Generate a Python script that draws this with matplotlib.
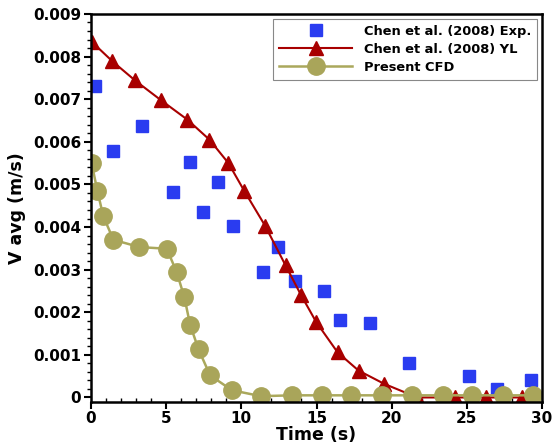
import numpy as np
import matplotlib
matplotlib.use('Agg')
import matplotlib.pyplot as plt
from matplotlib.ticker import MultipleLocator, FuncFormatter

plt.rcParams['font.family'] = ['DejaVu Sans']
plt.rcParams['font.weight'] = 'bold'

# Chen et al. (2008) experiment
exp_t = [0.27, 1.49, 3.37, 5.44, 6.59, 7.48, 8.48, 9.43, 11.43, 12.45, 13.58,
         15.53, 16.53, 18.53, 21.15, 25.14, 27.0, 29.27]
exp_v = [0.00730, 0.00578, 0.00638, 0.00483, 0.00552, 0.00436, 0.00505, 0.00403,
         0.00294, 0.00352, 0.00273, 0.00250, 0.00181, 0.00174, 0.00080, 0.00050,
         0.00020, 0.00041]

# Chen et al. (2008) YL model
yl_t = [0.04, 1.42, 2.93, 4.64, 6.41, 7.88, 9.14, 10.19, 11.58, 12.94, 13.96,
        14.98, 16.40, 17.80, 19.50, 21.70, 24.20, 26.30, 28.70]
yl_v = [0.00835, 0.00789, 0.00744, 0.00698, 0.00652, 0.00605, 0.00550, 0.00485,
        0.00403, 0.00310, 0.00241, 0.00177, 0.00106, 0.00063, 0.00032, 0.0,
        0.0, 0.0, 0.0]

# Present CFD
cfd_t = [0.04, 0.42, 0.82, 1.49, 3.22, 5.04, 5.70, 6.21, 6.59, 7.15, 7.92, 9.37,
         11.30, 13.36, 15.36, 17.31, 19.35, 21.35, 23.40, 25.35, 27.40, 29.40]
cfd_v = [0.00550, 0.00485, 0.00425, 0.00370, 0.00353, 0.00349, 0.00294, 0.00235,
         0.00171, 0.00113, 0.00052, 0.00017, 0.00003, 0.00005, 0.00005, 0.00005,
         0.00005, 0.00005, 0.00005, 0.00005, 0.00005, 0.00005]

fig = plt.figure(figsize=(5.53, 4.48), dpi=100)
ax = fig.add_axes([0.1646, 0.1033, 0.8155, 0.8655])

ax.plot(exp_t, exp_v, linestyle='none', marker='s', ms=8.5, color='#2a3cf0',
        mec='#2a3cf0', label='Chen et al. (2008) Exp.')
ax.plot(yl_t, yl_v, '-', color='#a80000', lw=1.5, marker='^', ms=9.5,
        label='Chen et al. (2008) YL')
ax.plot(cfd_t, cfd_v, '-', color='#aaa85c', lw=1.8, marker='o', ms=12.5,
        mfc='#a9a55a', mec='#a9a55a', label='Present CFD')

ax.set_xlim(0, 30)
ax.set_ylim(-0.0001, 0.009)
ax.xaxis.set_major_locator(MultipleLocator(5))
ax.xaxis.set_minor_locator(MultipleLocator(1))
ax.yaxis.set_major_locator(MultipleLocator(0.001))
ax.yaxis.set_minor_locator(MultipleLocator(0.0002))
ax.yaxis.set_major_formatter(FuncFormatter(lambda v, p: '0' if abs(v) < 1e-9 else '%.3f' % v))

ax.tick_params(axis='both', which='major', direction='out', length=5, width=1.5,
               labelsize=11, top=False, right=False, pad=2)
ax.tick_params(axis='y', which='minor', direction='out', length=3, width=1)
ax.tick_params(axis='x', which='minor', direction='in', length=3, width=1)
for s in ax.spines.values():
    s.set_linewidth(1.8)

ax.set_xlabel('Time (s)', fontsize=12.5, fontweight='bold', labelpad=0)
ax.set_ylabel('V avg (m/s)', fontsize=12.5, fontweight='bold', labelpad=5)

leg = ax.legend(loc='upper right', bbox_to_anchor=(0.99, 0.988), borderaxespad=0,
                fontsize=9.4, handlelength=5.6, handletextpad=0.9,
                labelspacing=0.4, borderpad=0.45, fancybox=False, framealpha=1)
leg.get_frame().set_edgecolor('#888888')
leg.get_frame().set_linewidth(0.8)

fig.savefig('out.png', dpi=100)
